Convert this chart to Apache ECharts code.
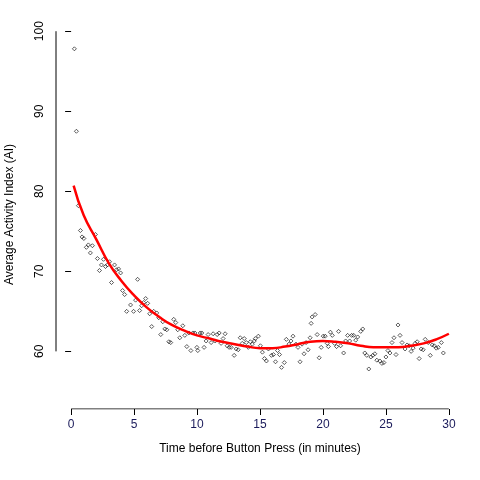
<!DOCTYPE html>
<html>
<head>
<meta charset="utf-8">
<script src="https://cdn.jsdelivr.net/npm/echarts@6/dist/echarts.min.js"></script>
<style>html,body{margin:0;padding:0;background:#fff}#main{width:480px;height:480px}</style>
</head>
<body>
<div id="main"></div>
<script>
var times = [0.26,0.42,0.58,0.74,0.87,1.01,1.21,1.37,1.53,1.69,1.93,2.09,2.25,2.41,2.57,2.73,2.89,3.05,3.21,3.45,3.61,3.77,3.93,4.09,4.25,4.41,4.72,4.96,5.12,5.28,5.44,5.60,5.76,5.92,6.08,6.24,6.40,6.56,6.80,6.96,7.12,7.28,7.44,7.60,7.76,7.91,8.15,8.31,8.47,8.63,8.87,9.03,9.19,9.35,9.51,9.67,9.83,9.99,
  10.06,10.25,10.38,10.56,10.72,10.88,11.12,11.28,11.44,11.60,11.76,11.91,12.07,12.23,12.39,12.55,12.71,12.95,13.11,13.27,13.43,13.59,13.75,13.91,14.07,14.23,14.39,14.55,14.63,14.87,15.03,15.19,15.35,15.51,15.67,15.91,16.07,16.23,16.39,16.55,16.71,16.93,17.09,17.30,17.46,17.62,17.86,18.02,18.18,18.34,18.50,18.66,18.82,18.98,19.06,19.14,19.38,19.54,19.70,19.86,20.02,20.18,20.34,
  20.43,20.59,20.74,20.92,21.08,21.24,21.40,21.64,21.80,21.96,22.12,22.28,22.44,22.60,22.76,23.00,23.16,23.32,23.48,23.64,23.80,23.96,24.12,24.28,24.52,24.68,24.84,25.00,25.16,25.32,25.48,25.64,25.80,25.96,26.12,26.28,26.52,26.68,26.84,27.00,27.16,27.32,27.48,27.64,27.80,27.96,28.12,28.36,28.52,28.68,28.84,29.00,29.16,29.40,29.56];
var activity = [97.8,87.5,78.2,75.1,74.3,74.1,73.0,73.3,72.3,73.2,74.6,71.6,70.1,70.8,71.5,70.6,70.8,71.2,68.6,70.8,70.2,70.3,69.8,67.6,67.1,65.0,65.8,65.0,66.4,69.0,65.1,65.7,66.1,66.6,66.0,64.7,63.1,65.0,64.8,64.2,62.1,63.7,62.8,62.7,61.2,61.1,64.0,63.6,62.7,61.7,63.2,62.0,60.6,62.3,60.1,62.3,62.3,60.5,
  60.1,62.3,62.3,60.5,61.3,62.1,61.1,62.2,61.3,62.1,62.3,61.0,61.6,62.2,60.7,60.5,60.5,59.5,60.3,60.2,61.7,61.0,61.6,61.1,60.5,61.2,60.9,61.3,61.6,61.9,60.7,59.9,59.1,58.8,60.3,59.5,59.6,58.7,60.1,59.6,58.0,58.6,61.5,60.9,61.3,61.9,60.9,60.5,58.7,60.9,59.7,61.1,60.2,61.7,63.5,64.3,64.6,62.1,59.2,60.5,61.9,61.9,61.0,
  60.6,62.4,62.0,61.0,60.6,62.5,60.7,59.8,61.3,62.0,61.3,62.0,62.0,61.4,61.8,62.5,62.8,59.8,59.5,57.8,59.3,59.5,59.7,58.9,58.8,58.5,58.6,59.3,60.1,59.8,61.1,61.7,59.6,63.3,62.0,61.1,60.3,60.8,60.7,60.0,60.4,61.0,61.2,59.1,60.3,60.2,61.5,61.1,59.5,60.8,60.7,60.4,60.5,61.1,59.8,60.7,61.6,60.7,60.6,65.0,61.7,61.0,64.9];
// smoothed fit (red curve)
var fitTimes = [0.2,1,2,3,4,5,6,7,8,9,10,11,12,13,14,15,16,17,18,19,20,21,22,23,24,25,26,27,28,29,30];
var fitValues = [80.7,77.0,74.0,71.0,68.8,67.0,65.5,64.3,63.3,62.6,62.0,61.6,61.2,60.9,60.6,60.4,60.4,60.6,60.9,61.2,61.3,61.2,61.0,60.7,60.5,60.5,60.5,60.7,61.0,61.5,62.2];
var xTicks = [0,5,10,15,20,25,30];
var yTicks = [60,70,80,90,100];

var XMIN = -1.2, XMAX = 31.2, YMIN = 52.8, YMAX = 101.4;
var pts = [];
for (var i = 0; i < times.length; i++) pts.push([times[i], activity[i]]);
var fit = [];
for (var j = 0; j < fitTimes.length; j++) fit.push([fitTimes[j], fitValues[j]]);

var chart = echarts.init(document.getElementById('main'));
var font = 'Liberation Sans, Arial, sans-serif';
option = {
  animation: false,
  backgroundColor: '#fff',
  grid: { left: 56, right: 16, top: 20, bottom: 71, containLabel: false, outerBoundsMode: 'none' },
  xAxis: {
    type: 'value', min: XMIN, max: XMAX,
    name: 'Time before Button Press (in minutes)', nameLocation: 'middle', nameGap: 34,
    nameTextStyle: { fontFamily: font, fontSize: 12, color: '#000' },
    axisLine: { show: false }, splitLine: { show: false },
    axisTick: { show: true, customValues: xTicks, length: 6, lineStyle: { color: '#000' } },
    axisLabel: { customValues: xTicks, fontFamily: font, fontSize: 12, color: '#1a1a5a', margin: 10 }
  },
  yAxis: {
    type: 'value', min: YMIN, max: YMAX,
    name: 'Average Activity Index (AI)', nameLocation: 'middle', nameGap: 40,
    nameTextStyle: { fontFamily: font, fontSize: 12, color: '#000' },
    axisLine: { show: false }, splitLine: { show: false },
    axisTick: { show: true, customValues: yTicks, length: 6, lineStyle: { color: '#000' } },
    axisLabel: { customValues: yTicks, rotate: 90, fontFamily: font, fontSize: 12, color: '#000', margin: 10 }
  },
  series: [
    { type: 'line', silent: true, symbol: 'none', data: [[0, YMIN], [30, YMIN]], lineStyle: { color: '#000', width: 1 } },
    { type: 'line', silent: true, symbol: 'none', data: [[XMIN, 60], [XMIN, 100]], lineStyle: { color: '#000', width: 1 } },
    { type: 'scatter', data: pts, symbol: 'diamond', symbolSize: 4,
      itemStyle: { color: 'rgba(0,0,0,0)', borderColor: '#000', borderWidth: 0.8 } },
    { type: 'line', data: fit, smooth: true, symbol: 'none', lineStyle: { color: '#ff0000', width: 2.5 } }
  ]
};
chart.setOption(option);
</script>
</body>
</html>
